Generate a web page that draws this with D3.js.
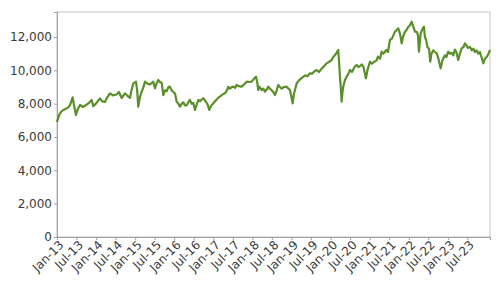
<!DOCTYPE html>
<html>
<head>
<meta charset="utf-8">
<script src="https://d3js.org/d3.v7.min.js"></script>
<style>
  body { margin: 0; background: #fff; }
  text { font-family: "DejaVu Sans", sans-serif; }
</style>
</head>
<body>
<div id="chart"></div>
<script>
// index level
var dates = [
  "2013-01-01","2013-01-19","2013-02-07","2013-03-01","2013-03-26","2013-04-16","2013-05-02","2013-05-27",
  "2013-06-09","2013-06-27","2013-07-16","2013-08-04","2013-09-01","2013-10-05","2013-10-27","2013-11-21",
  "2013-12-06","2013-12-31","2014-02-06","2014-02-25","2014-03-25","2014-04-13","2014-05-11","2014-06-08",
  "2014-07-12","2014-08-03","2014-08-28","2014-09-28","2014-10-17","2014-11-14","2014-11-28","2014-12-15",
  "2015-01-09","2015-01-20","2015-01-30","2015-02-15","2015-03-03","2015-03-20","2015-04-03","2015-04-26",
  "2015-05-20","2015-06-19","2015-07-05","2015-07-19","2015-08-05","2015-08-21","2015-09-06","2015-09-21",
  "2015-10-07","2015-10-23","2015-11-08","2015-11-22","2015-12-08","2015-12-23","2016-01-08","2016-01-24",
  "2016-02-08","2016-02-24","2016-03-11","2016-03-26","2016-04-11","2016-04-26","2016-05-13","2016-05-27",
  "2016-06-12","2016-06-27","2016-07-13","2016-07-29","2016-08-13","2016-08-29","2016-09-14","2016-09-28",
  "2016-10-14","2016-10-30","2016-11-11","2016-11-23","2016-12-09","2016-12-31","2017-01-25","2017-02-13",
  "2017-03-03","2017-03-27","2017-04-19","2017-05-08","2017-05-20","2017-06-05","2017-06-21","2017-07-06",
  "2017-07-22","2017-08-06","2017-08-28","2017-09-22","2017-10-14","2017-11-08","2017-11-29","2017-12-25",
  "2018-01-15","2018-02-03","2018-02-14","2018-02-24","2018-03-06","2018-03-28","2018-04-12","2018-04-28",
  "2018-05-14","2018-05-29","2018-06-14","2018-06-29","2018-07-14","2018-07-30","2018-08-15","2018-08-30",
  "2018-09-15","2018-10-01","2018-10-22","2018-11-16","2018-12-03","2018-12-17","2018-12-31","2019-01-11",
  "2019-01-24","2019-02-18","2019-03-11","2019-03-30","2019-04-21","2019-05-11","2019-05-30","2019-06-22",
  "2019-07-11","2019-08-03","2019-08-24","2019-09-14","2019-10-09","2019-10-31","2019-11-25","2019-12-16",
  "2020-01-11","2020-01-26","2020-02-11","2020-02-26","2020-03-12","2020-03-21","2020-03-28","2020-04-07",
  "2020-04-13","2020-04-21","2020-04-28","2020-05-14","2020-05-30","2020-06-16","2020-06-30","2020-07-18",
  "2020-08-13","2020-08-31","2020-09-17","2020-10-01","2020-10-17","2020-11-01","2020-11-17","2020-11-26",
  "2020-12-10","2021-01-03","2021-01-21","2021-02-09","2021-03-06","2021-03-18","2021-04-06","2021-04-22",
  "2021-05-09","2021-06-04","2021-06-20","2021-07-08","2021-07-27","2021-08-24","2021-09-07","2021-09-24",
  "2021-10-10","2021-10-26","2021-11-07","2021-11-25","2021-12-09","2021-12-26","2022-01-11","2022-01-27",
  "2022-02-08","2022-02-27","2022-03-18","2022-03-27","2022-04-05","2022-04-21","2022-05-10","2022-05-22",
  "2022-05-31","2022-06-12","2022-06-22","2022-07-08","2022-07-20","2022-07-31","2022-08-17","2022-09-02",
  "2022-09-18","2022-10-04","2022-10-25","2022-11-11","2022-12-04","2022-12-18","2023-01-04","2023-01-20",
  "2023-02-05","2023-02-20","2023-03-07","2023-03-23","2023-04-07","2023-04-23","2023-05-09","2023-05-26",
  "2023-06-09","2023-06-23","2023-07-07","2023-07-26","2023-08-13","2023-08-27","2023-09-10","2023-09-26",
  "2023-10-11","2023-10-27","2023-11-05","2023-11-15","2023-11-27","2023-12-13","2023-12-29","2024-01-15",
  "2024-01-29"
];

var values = [
  6900,7300,7500,7620,7700,7780,7900,8380,
  7900,7320,7700,7920,7800,7940,8050,8220,
  7850,8000,8320,8150,8100,8350,8620,8500,
  8550,8700,8340,8620,8500,8340,8800,9220,
  9320,8800,7820,8400,8720,9000,9320,9200,
  9150,9320,8920,9200,9420,9300,9250,8520,
  8800,8750,9000,9020,8800,8700,8620,8120,
  8000,7820,8000,8080,7900,7900,8100,8220,
  8000,8050,7620,7950,8220,8150,8250,8320,
  8200,8050,7900,7620,7850,8020,8200,8350,
  8420,8550,8620,8800,9020,8900,9000,9020,
  8950,9120,9050,9020,9150,9320,9300,9320,
  9500,9620,9300,8820,9020,8820,8900,8720,
  8850,9020,8900,8800,8700,8520,8800,9120,
  9000,8900,9000,9020,8900,8820,8400,8020,
  8600,9220,9400,9500,9620,9700,9650,9820,
  9800,9950,10020,9900,10100,10250,10420,10500,
  10620,10800,10920,11050,11220,10400,9620,8800,
  8120,8700,9020,9420,9620,9800,10020,9900,
  10220,10320,10200,10250,10350,10250,9800,9520,
  10000,10520,10400,10500,10600,10820,10700,11120,
  11000,11220,11100,11820,11900,12320,12400,12520,
  12200,11620,12000,12300,12400,12600,12700,12920,
  12700,12320,12300,12100,11120,12200,12520,12620,
  12000,11800,11420,11300,10520,11000,11200,11100,
  11020,10700,10120,10600,10900,10800,11120,11000,
  11050,10900,11250,11050,10620,11000,11320,11400,
  11620,11500,11350,11400,11200,11300,11100,11200,
  11000,11100,10900,10700,10420,10700,10800,11000,
  11220
];

var yTicks = [0, 2000, 4000, 6000, 8000, 10000, 12000];
var yMax = 13500;
var xTickFirst = "2013-01-01", xTickLast = "2023-07-01";

var width = 498, height = 286;
var margin = {top: 12, right: 8, bottom: 49, left: 57};

var parse = d3.timeParse("%Y-%m-%d");
var data = dates.map(function(d, i) { return {date: parse(d), value: values[i]}; });

var svg = d3.select("#chart").append("svg")
    .attr("width", width)
    .attr("height", height);

var x = d3.scaleTime()
    .domain(d3.extent(data, function(d) { return d.date; }))
    .range([margin.left, width - margin.right]);

var y = d3.scaleLinear()
    .domain([0, yMax])
    .range([height - margin.bottom, margin.top]);

// frame
svg.append("rect")
    .attr("x", margin.left)
    .attr("y", margin.top)
    .attr("width", width - margin.left - margin.right)
    .attr("height", height - margin.top - margin.bottom)
    .attr("fill", "none")
    .attr("stroke", "#c4c4c4")
    .attr("stroke-width", 1);

var yAxis = svg.append("g")
    .attr("transform", "translate(" + margin.left + ",0)")
    .call(d3.axisLeft(y).tickValues(yTicks).tickFormat(d3.format(",")).tickSize(3).tickPadding(2));

// half-year ticks, Jan-13 .. Jul-23
var xTicks = d3.timeMonth.every(6).range(parse(xTickFirst), d3.timeDay.offset(parse(xTickLast), 1));

var xAxis = svg.append("g")
    .attr("transform", "translate(0," + (height - margin.bottom) + ")")
    .call(d3.axisBottom(x).tickValues(xTicks).tickFormat(d3.timeFormat("%b-%y")).tickSize(3).tickPadding(2));

xAxis.selectAll("text")
    .attr("text-anchor", "end")
    .attr("dx", "-0.1em")
    .attr("dy", "0.5em")
    .attr("transform", "rotate(-45)");

[yAxis, xAxis].forEach(function(a) {
    a.select(".domain").attr("stroke", "#a0a0a0");
    a.selectAll(".tick line").attr("stroke", "#a0a0a0");
    a.selectAll("text").attr("fill", "#3a3a3a").style("font-size", "12px")
        .style("font-family", "DejaVu Sans, sans-serif");
});

var line = d3.line()
    .x(function(d) { return x(d.date); })
    .y(function(d) { return y(d.value); });

svg.append("path")
    .datum(data)
    .attr("fill", "none")
    .attr("stroke", "#5a8f29")
    .attr("stroke-width", 2.2)
    .attr("stroke-linejoin", "round")
    .attr("d", line);
</script>
</body>
</html>
